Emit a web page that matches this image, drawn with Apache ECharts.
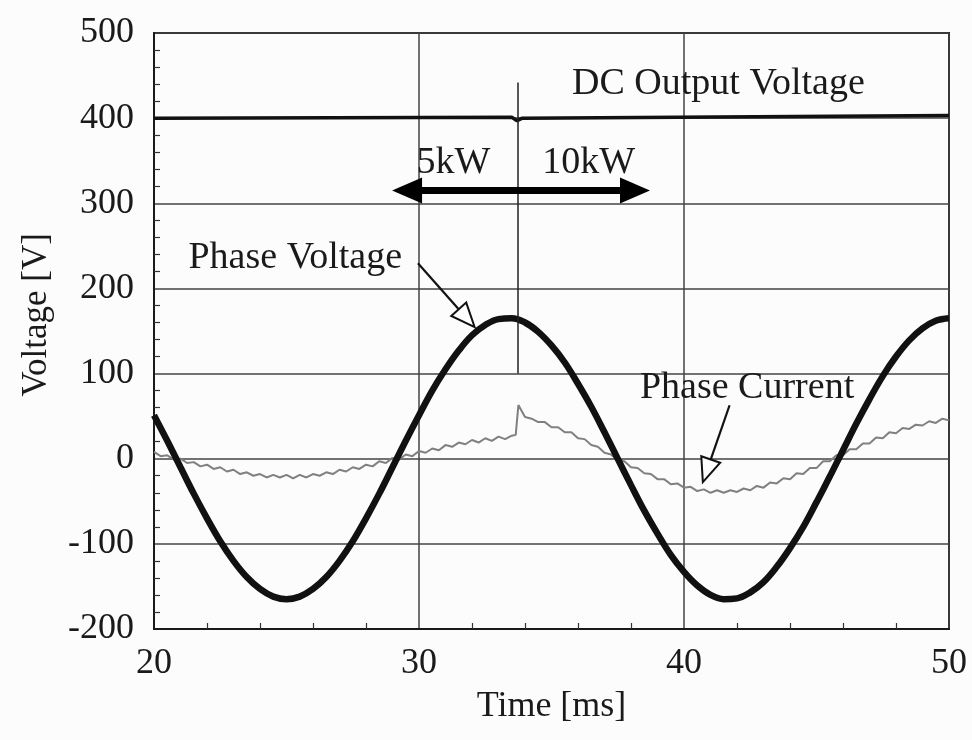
<!DOCTYPE html>
<html>
<head>
<meta charset="utf-8">
<script src="https://cdn.jsdelivr.net/npm/echarts@6/dist/echarts.min.js"></script>
<style>
html,body{margin:0;padding:0;background:#fcfcfc;}
#chart{width:972px;height:740px;}
</style>
</head>
<body>
<div id="chart"></div>
<script>
// ---- Data ----
const xTicks = [20, 30, 40, 50];
const yTicks = [-200, -100, 0, 100, 200, 300, 400, 500];

const timeDC = [20, 33.5, 33.7, 33.9, 50];
const dcVoltage = [400, 401, 397, 400, 403];

const timeV = [20,20.5,21,21.5,22,22.5,23,23.5,24,24.5,25,25.5,26,26.5,27,27.5,28,28.5,29,29.5,30,
  30.5,31,31.5,32,32.5,33,33.5,34,34.5,35,35.5,36,36.5,37,37.5,38,38.5,39,39.5,40,
  40.5,41,41.5,42,42.5,43,43.5,44,44.5,45,45.5,46,46.5,47,47.5,48,48.5,49,49.5,50];
const phaseVoltage = [51,21,-10,-41,-70,-97,-120,-139,-153,-162,-165,-162,-153,-139,-120,-97,-70,-41,-10,21,51,
  80,105,127,145,157,164,165,160,149,133,113,88,61,31,0,-31,-61,-88,-113,-133,
  -149,-160,-165,-164,-157,-145,-127,-105,-80,-51,-21,10,41,70,97,120,139,153,162,165];

const timeI = [20,20.25,20.5,20.75,21,21.25,21.5,21.75,22,22.25,22.5,22.75,23,23.25,23.5,23.75,24,24.25,24.5,24.75,
  25,25.25,25.5,25.75,26,26.25,26.5,26.75,27,27.25,27.5,27.75,28,28.25,28.5,28.75,29,29.25,29.5,29.75,
  30,30.25,30.5,30.75,31,31.25,31.5,31.75,32,32.25,32.5,32.75,33,33.25,33.5,33.65,33.75,
  34,34.25,34.5,34.75,35,35.25,35.5,35.75,36,36.25,36.5,36.75,37,37.25,37.5,37.75,38,38.25,38.5,38.75,
  39,39.25,39.5,39.75,40,40.25,40.5,40.75,41,41.25,41.5,41.75,42,42.25,42.5,42.75,43,43.25,43.5,43.75,
  44,44.25,44.5,44.75,45,45.25,45.5,45.75,46,46.25,46.5,46.75,47,47.25,47.5,47.75,48,48.25,48.5,48.75,
  49,49.25,49.5,49.75,50];
const phaseCurrent = [8,3,4,-1,0,-5,-4,-9,-7,-12,-10,-15,-13,-18,-16,-20,-18,-22,-19,-22,
  -19,-23,-19,-22,-18,-20,-16,-18,-13,-15,-10,-12,-7,-9,-3,-5,1,-1,5,3,
  9,7,12,10,16,14,19,17,22,19,24,21,26,23,27,28,63,
  49,47,43,43,37,37,31,31,24,23,16,14,7,5,-2,-3,-10,-11,-17,-18,
  -24,-24,-30,-29,-34,-33,-38,-36,-40,-37,-40,-37,-39,-35,-37,-32,-34,-28,-29,-23,
  -24,-17,-18,-11,-11,-3,-3,4,4,11,11,18,18,25,24,31,30,36,35,40,
  39,44,42,47,45];

// annotations (data coordinates)
const stepMarker = [[33.73, 100], [33.73, 442]];
const loadArrow = [[29.55, 315], [38.15, 315]];
const pvPointer = [[29.96, 229.5], [31.8, 165]];
const pcPointer = [[41.72, 62.8], [40.86, -14.2]];
const labels = [
  {text: 'DC Output Voltage', coord: [41.3, 440]},
  {text: '5kW', coord: [31.3, 347]},
  {text: '10kW', coord: [36.4, 347]},
  {text: 'Phase Voltage', coord: [25.33, 236]},
  {text: 'Phase Current', coord: [42.38, 83]}
];

const zip = (a, b) => a.map((t, i) => [t, b[i]]);
const FONT = '"Liberation Serif", "DejaVu Serif", serif';
const INK = '#1a1a1a';

const chart = echarts.init(document.getElementById('chart'), null, {renderer: 'canvas'});
chart.setOption({
  backgroundColor: '#fcfcfc',
  animation: false,
  grid: {left: 154, right: 23, top: 33, bottom: 111, show: true, borderColor: INK, borderWidth: 2, backgroundColor: 'transparent'},
  xAxis: {
    type: 'value', min: xTicks[0], max: xTicks[xTicks.length - 1], interval: 10,
    name: 'Time [ms]', nameLocation: 'middle', nameGap: 60,
    nameTextStyle: {fontFamily: FONT, fontSize: 36, color: INK},
    axisLine: {show: true, onZero: false, lineStyle: {color: INK, width: 2}},
    axisTick: {show: false, inside: true},
    minorTick: {show: true, splitNumber: 5, length: 6, lineStyle: {color: '#333', width: 1.2}},
    axisLabel: {fontFamily: FONT, fontSize: 36, color: INK, margin: 17},
    splitLine: {show: true, lineStyle: {color: '#444', width: 1.5}}
  },
  yAxis: {
    type: 'value', min: yTicks[0], max: yTicks[yTicks.length - 1], interval: 100,
    name: 'Voltage [V]', nameLocation: 'middle', nameGap: 100,
    nameTextStyle: {fontFamily: FONT, fontSize: 35, color: INK, padding: [0, 0, 0, 32]},
    axisLine: {show: true, onZero: false, lineStyle: {color: INK, width: 2}},
    axisTick: {show: false, inside: true},
    minorTick: {show: true, splitNumber: 5, length: 6, lineStyle: {color: '#333', width: 1.2}},
    axisLabel: {fontFamily: FONT, fontSize: 36, color: INK, margin: 20},
    splitLine: {show: true, lineStyle: {color: '#444', width: 1.5}}
  },
  series: [
    {
      name: 'Phase Current', type: 'line', data: zip(timeI, phaseCurrent),
      showSymbol: false, lineStyle: {color: '#808080', width: 2}, z: 3
    },
    {
      name: 'Phase Voltage', type: 'line', data: zip(timeV, phaseVoltage), smooth: 0.4,
      showSymbol: false, lineStyle: {color: '#111', width: 6.5}, z: 4
    },
    {
      name: 'DC Output Voltage', type: 'line', data: zip(timeDC, dcVoltage),
      showSymbol: false, lineStyle: {color: '#111', width: 3.5}, z: 4,
      markLine: {
        silent: true, animation: false,
        label: {show: false},
        data: [
          [{coord: stepMarker[0], symbol: 'none', lineStyle: {color: '#222', width: 1.5, type: 'solid'}},
           {coord: stepMarker[1], symbol: 'none'}],
          [{coord: loadArrow[0], symbol: 'triangle', symbolSize: [26, 30], lineStyle: {color: '#000', width: 7, type: 'solid'}},
           {coord: loadArrow[1], symbol: 'triangle', symbolSize: [26, 30]}],
          [{coord: pvPointer[0], symbol: 'none', lineStyle: {color: '#111', width: 2.2, type: 'solid'}},
           {coord: pvPointer[1], symbol: 'emptyTriangle', symbolSize: [20, 24]}],
          [{coord: pcPointer[0], symbol: 'none', lineStyle: {color: '#111', width: 2.2, type: 'solid'}},
           {coord: pcPointer[1], symbol: 'emptyTriangle', symbolSize: [20, 24]}]
        ]
      },
      markPoint: {
        silent: true, animation: false,
        symbol: 'circle', symbolSize: 0,
        label: {show: true, position: 'inside', fontFamily: FONT, fontSize: 38, color: INK,
          formatter: p => p.name},
        data: labels.map(l => ({name: l.text, coord: l.coord}))
      }
    }
  ]
});
</script>
</body>
</html>
